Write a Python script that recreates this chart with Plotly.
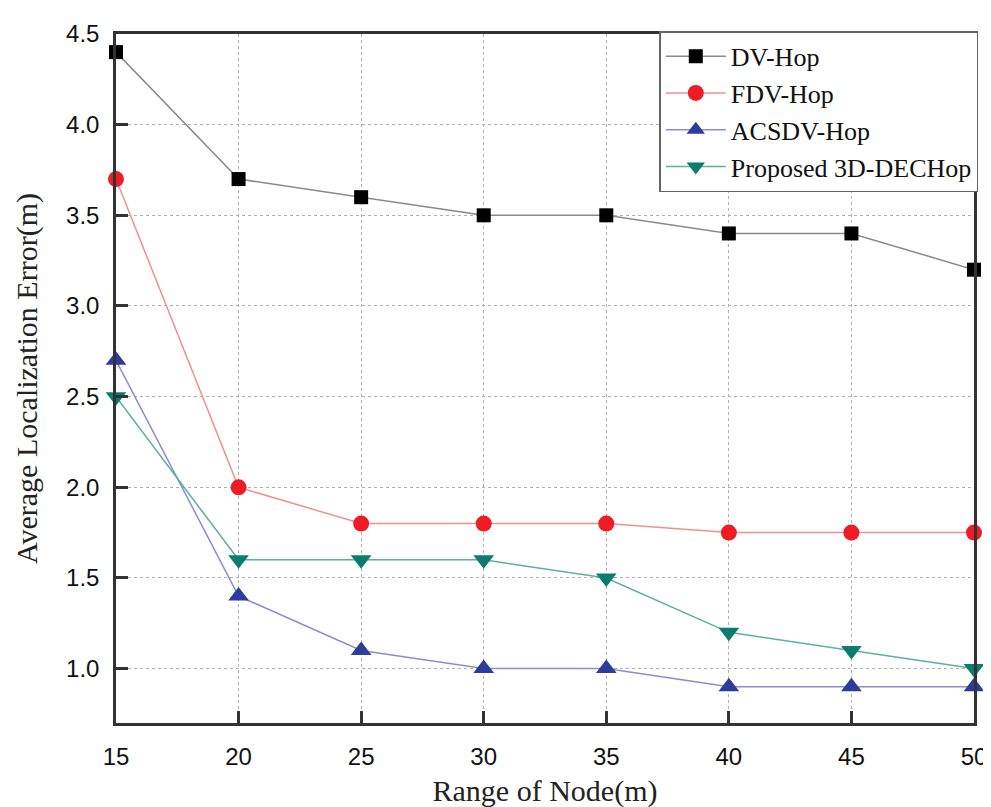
import plotly.graph_objects as go

x_vals = [15, 20, 25, 30, 35, 40, 45, 50]
dv_hop = [4.4, 3.7, 3.6, 3.5, 3.5, 3.4, 3.4, 3.2]
fdv_hop = [3.7, 2.0, 1.8, 1.8, 1.8, 1.75, 1.75, 1.75]
acsdv_hop = [2.7, 1.4, 1.1, 1.0, 1.0, 0.9, 0.9, 0.9]
proposed = [2.5, 1.6, 1.6, 1.6, 1.5, 1.2, 1.1, 1.0]
y_ticks = [1.0, 1.5, 2.0, 2.5, 3.0, 3.5, 4.0, 4.5]

series = [
    ("DV-Hop", dv_hop, "#8a8a8a", "#000000", "square", 14),
    ("FDV-Hop", fdv_hop, "#f29090", "#ee1c25", "circle", 16),
    ("ACSDV-Hop", acsdv_hop, "#8c8cd0", "#2b3c9c", "triangle-up", 18),
    ("Proposed 3D-DECHop", proposed, "#5bb0a4", "#0b7d6c", "triangle-down", 18),
]

fig = go.Figure()
for name, ys, lc, mc, sym, ms in series:
    fig.add_trace(go.Scatter(
        x=x_vals, y=ys, name=name, mode="lines+markers",
        line=dict(color=lc, width=1.5),
        marker=dict(symbol=sym, color=mc, size=ms, line=dict(width=0)),
        cliponaxis=False,
    ))

axis_common = dict(
    showline=True, linecolor="#333333", linewidth=2.5, mirror=True,
    showgrid=True, gridcolor="#b0b0b0", griddash="dot", gridwidth=1.2,
    ticks="inside", ticklen=12, tickwidth=2.5, tickcolor="#333333",
    tickfont=dict(family="Liberation Sans, Arial", size=24, color="#111111"),
    zeroline=False,
)

title_font = dict(family="Liberation Serif, Times New Roman", size=30, color="#222222")

fig.update_layout(
    width=991, height=807,
    margin=dict(l=108, r=18, t=13, b=92),
    paper_bgcolor="white", plot_bgcolor="white",
    xaxis=dict(range=[15, 50], tickvals=x_vals, ticktext=[str(v) for v in x_vals],
               ticklabelstandoff=10,
               title=dict(text="Range of Node(m)", standoff=12, font=title_font),
               **axis_common),
    yaxis=dict(range=[0.7, 4.5], tickvals=y_ticks,
               ticktext=["%.1f" % v for v in y_ticks],
               ticklabelstandoff=9,
               title=dict(text="Average Localization Error(m)", standoff=20, font=title_font),
               **axis_common),
    legend=dict(x=1.005, y=1.004, xanchor="right", yanchor="top",
                bgcolor="white", bordercolor="#666666", borderwidth=1.5,
                font=dict(family="Liberation Serif, Times New Roman", size=26, color="#111111"),
                tracegroupgap=0, itemwidth=60),
    showlegend=True,
)

fig.write_html("out.html")
